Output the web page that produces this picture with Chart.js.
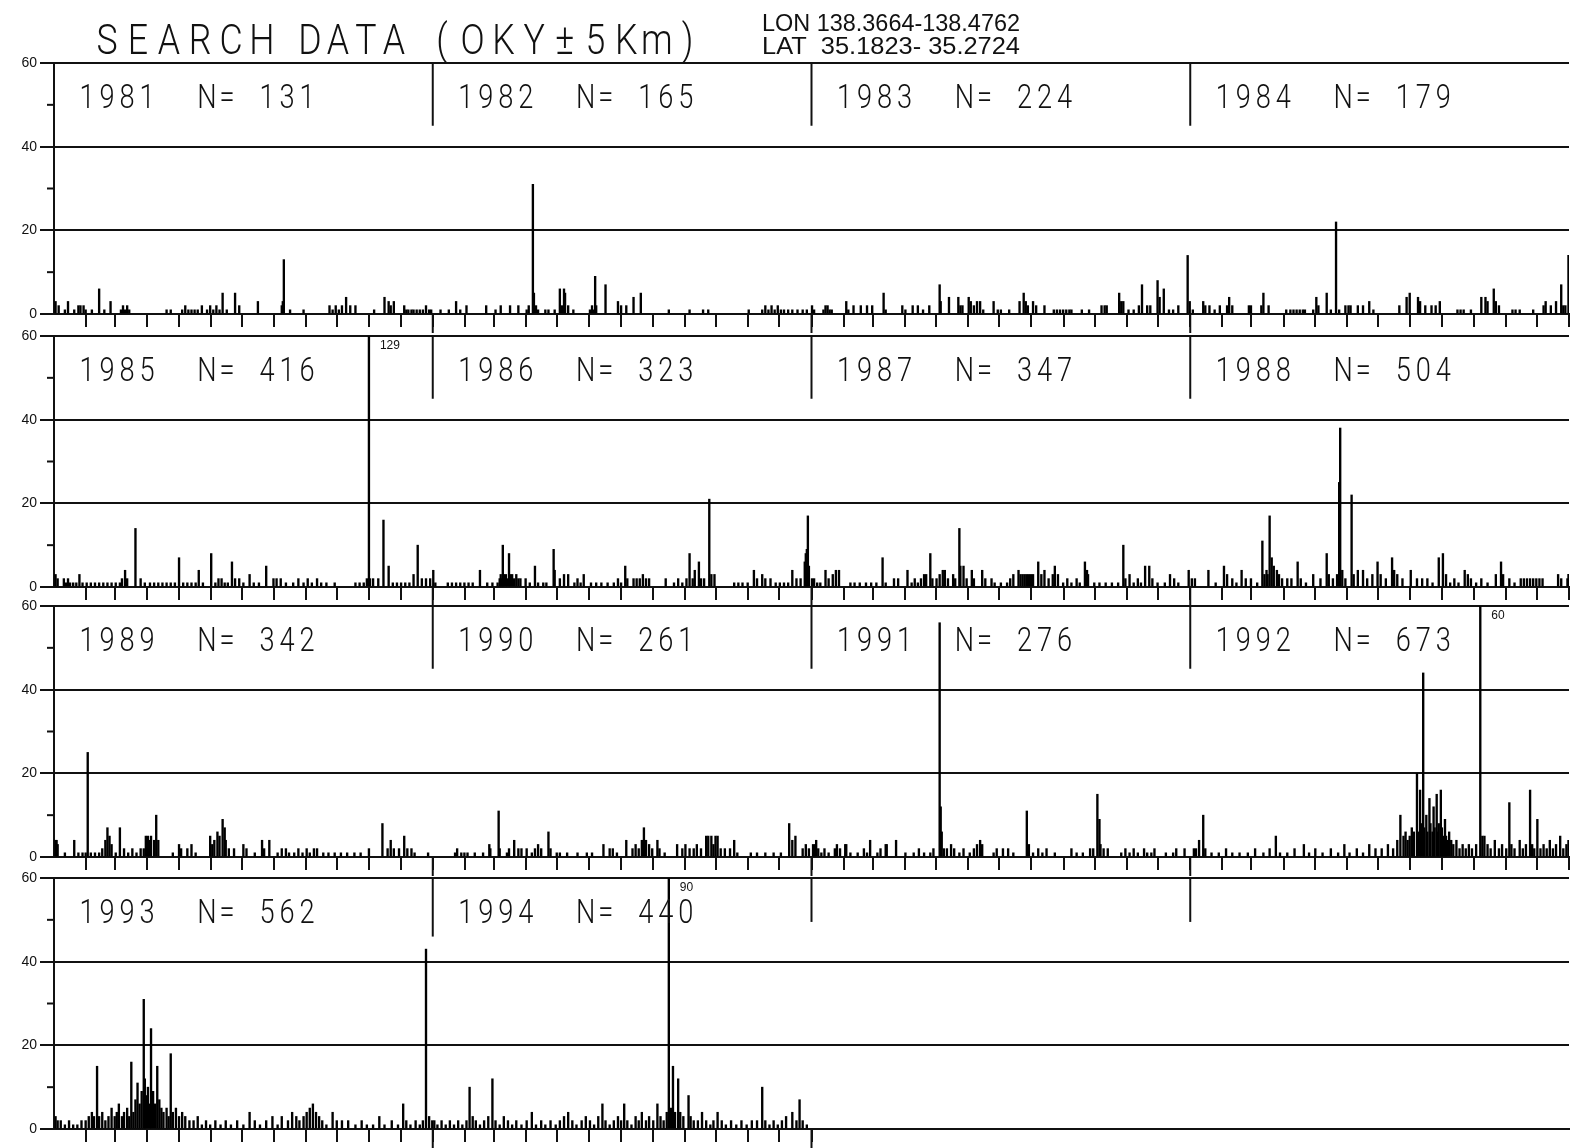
<!DOCTYPE html>
<html>
<head>
<meta charset="utf-8">
<script src="https://cdn.jsdelivr.net/npm/chart.js@4.4.0/dist/chart.umd.min.js"></script>
<style>
  body { margin: 0; background: #fff; width: 1572px; height: 1148px; overflow: hidden; position: relative; }
  canvas { position: absolute; left: 0; }
</style>
</head>
<body>
<canvas id="row0"></canvas>
<canvas id="row1"></canvas>
<canvas id="row2"></canvas>
<canvas id="row3"></canvas>
<script>
// Years and yearly totals (N=)
var years  = [1981, 1982, 1983, 1984, 1985, 1986, 1987, 1988, 1989, 1990, 1991, 1992, 1993, 1994];
var totals = [131, 165, 224, 179, 416, 323, 347, 504, 342, 261, 276, 673, 562, 440];

// Daily event counts, [day of year, count]; days not listed are 0
var q1981 = [[1,3],[4,2],[10,1],[13,3],[19,1],[23,2],[25,2],[28,2],[30,1],[36,1],[43,6],[48,1],[54,3],[64,1],[66,2],[68,1],[70,2],[72,1],[108,1],[112,1],[123,1],[126,2],[129,1],[132,1],[135,1],[138,1],[142,2],[147,1],[150,2],[153,1],[156,2],[159,1],[162,5],[166,1],[174,5],[178,2],[196,3],[219,2],[220,3],[221,13],[227,1],[240,1],[265,2],[268,1],[271,2],[274,1],[277,2],[281,4],[285,2],[290,2],[308,1],[318,4],[322,3],[324,2],[327,3],[337,2],[339,1],[341,1],[344,1],[346,1],[349,1],[352,1],[355,1],[358,2],[361,1],[363,1]];
var q1982 = [[7,1],[15,1],[22,3],[26,1],[32,2],[51,2],[60,1],[65,2],[74,2],[82,2],[90,1],[92,2],[96,31],[97,5],[99,2],[101,1],[108,1],[111,1],[117,1],[122,6],[124,2],[126,6],[127,5],[130,2],[135,1],[151,1],[153,2],[155,1],[156,9],[157,2],[166,7],[178,3],[181,2],[186,2],[193,4],[200,5],[227,1],[247,1],[260,1],[265,1],[304,1],[317,1],[320,2],[323,1],[326,2],[329,1],[332,2],[335,1],[338,1],[342,1],[346,1],[351,1],[356,1],[360,1]];
var q1983 = [[0,2],[2,1],[11,1],[13,2],[15,2],[17,1],[19,1],[33,3],[35,1],[40,2],[47,2],[53,2],[58,2],[69,5],[71,1],[87,2],[90,1],[97,2],[102,2],[107,1],[113,2],[123,7],[124,3],[132,4],[141,4],[143,2],[145,2],[151,4],[153,3],[156,2],[159,3],[162,3],[165,1],[175,3],[179,1],[182,1],[190,1],[200,3],[204,5],[206,3],[208,2],[213,3],[216,2],[224,2],[233,1],[236,1],[239,1],[242,1],[245,1],[248,1],[250,1],[260,1],[267,1],[279,2],[282,2],[284,2],[296,5],[298,3],[300,3],[305,1],[310,1],[315,2],[318,7],[323,2],[326,2],[333,8],[335,4],[339,6],[344,1],[348,1],[353,2],[362,14],[364,3]];
var q1984 = [[2,1],[12,3],[14,2],[18,2],[23,1],[28,2],[35,2],[37,4],[40,2],[56,2],[58,2],[68,2],[70,5],[75,2],[92,1],[96,1],[99,1],[102,1],[105,1],[108,1],[110,1],[118,1],[121,4],[123,2],[131,5],[135,1],[140,22],[143,1],[149,2],[152,2],[154,2],[161,2],[166,2],[172,3],[176,1],[201,2],[208,4],[211,5],[219,4],[221,3],[226,2],[232,2],[236,2],[240,3],[257,1],[260,1],[263,1],[270,1],[280,4],[284,4],[286,3],[292,6],[294,3],[297,2],[310,1],[313,1],[317,1],[330,1],[340,2],[342,3],[347,2],[352,3],[357,7],[359,2],[361,2],[364,14]];
var q1985 = [[1,3],[3,2],[9,2],[11,1],[13,2],[15,1],[18,1],[21,1],[24,3],[27,1],[31,1],[35,1],[39,1],[43,1],[47,1],[51,1],[55,1],[59,1],[63,1],[65,2],[68,4],[70,2],[78,14],[83,2],[87,1],[92,1],[96,1],[100,1],[104,1],[108,1],[112,1],[116,1],[120,7],[124,1],[128,1],[132,1],[136,1],[139,4],[143,1],[151,8],[155,1],[158,2],[161,2],[164,1],[167,1],[171,6],[174,2],[178,2],[182,1],[188,3],[192,1],[197,1],[204,5],[211,2],[214,2],[218,2],[223,1],[230,1],[235,2],[240,1],[244,2],[248,1],[253,2],[257,1],[262,1],[270,1],[290,1],[294,1],[298,1],[301,2],[303,129],[304,2],[307,2],[312,2],[317,16],[322,5],[326,1],[330,1],[334,1],[338,1],[342,1],[346,3],[350,10],[354,2],[358,2],[362,2]];
var q1986 = [[0,4],[2,1],[14,1],[18,1],[22,1],[26,1],[30,1],[34,1],[38,1],[45,4],[52,1],[57,1],[62,1],[64,2],[65,3],[66,2],[67,10],[68,3],[70,3],[71,2],[73,8],[74,3],[76,3],[78,2],[80,3],[82,2],[84,2],[89,2],[93,1],[98,5],[101,1],[106,1],[109,1],[116,9],[117,4],[122,2],[126,3],[130,3],[136,1],[139,2],[142,1],[145,3],[152,1],[157,1],[162,1],[168,1],[174,1],[178,2],[181,1],[185,5],[187,2],[193,2],[196,2],[199,2],[202,3],[205,2],[208,2],[224,2],[232,1],[236,2],[240,1],[244,2],[247,8],[250,2],[252,4],[256,6],[258,2],[261,2],[266,21],[268,3],[271,3],[290,1],[294,1],[298,1],[303,1],[309,4],[312,2],[317,3],[320,2],[325,2],[330,1],[334,1],[338,1],[342,1],[346,4],[350,2],[354,2],[358,6],[359,8],[360,9],[361,17],[362,5]];
var q1987 = [[0,2],[2,2],[5,1],[8,1],[13,4],[16,2],[20,3],[23,4],[26,4],[37,1],[41,1],[46,1],[52,1],[57,1],[62,1],[68,7],[71,1],[79,2],[83,2],[92,4],[96,1],[99,2],[102,1],[105,2],[108,3],[110,3],[114,8],[116,2],[120,2],[123,3],[126,4],[128,4],[131,2],[136,3],[138,2],[142,14],[143,5],[146,5],[149,2],[154,4],[156,2],[164,4],[167,2],[173,2],[176,1],[182,1],[188,1],[191,2],[194,3],[199,4],[201,3],[203,3],[205,3],[207,3],[209,3],[211,3],[213,3],[218,6],[221,3],[224,4],[228,2],[232,3],[234,5],[237,3],[242,1],[246,2],[250,1],[255,2],[258,1],[263,6],[265,4],[266,3],[272,1],[277,1],[283,1],[289,1],[295,1],[300,10],[302,2],[306,3],[310,1],[314,2],[317,1],[321,5],[325,5],[328,2],[333,1],[340,1],[345,3],[349,2],[353,1],[363,4]];
var q1988 = [[1,2],[4,2],[17,4],[24,1],[32,5],[35,3],[40,2],[44,1],[49,4],[53,2],[58,2],[64,1],[69,11],[71,3],[73,4],[74,3],[76,17],[78,7],[80,5],[83,4],[85,3],[88,2],[93,2],[97,2],[103,6],[106,2],[111,1],[118,3],[125,2],[131,8],[133,3],[137,2],[141,3],[143,25],[144,38],[146,4],[149,2],[155,22],[157,3],[161,4],[166,4],[170,2],[175,3],[180,6],[183,3],[188,2],[194,7],[196,4],[199,3],[204,2],[212,4],[218,2],[223,2],[228,2],[233,1],[239,7],[243,8],[246,3],[250,1],[254,2],[258,1],[264,4],[267,3],[270,2],[275,1],[280,2],[286,1],[294,3],[299,6],[301,3],[307,2],[312,1],[318,2],[321,2],[324,2],[327,2],[330,2],[333,2],[336,2],[339,2],[354,3],[357,2],[363,2],[364,3]];
var q1989 = [[1,4],[2,4],[3,3],[10,1],[19,4],[23,1],[27,1],[30,1],[32,25],[35,1],[39,1],[43,1],[46,2],[49,4],[51,7],[53,5],[55,3],[59,1],[63,7],[67,2],[71,1],[75,2],[79,1],[83,2],[86,2],[88,5],[90,5],[91,4],[93,5],[96,4],[98,10],[100,4],[114,1],[120,3],[122,2],[128,2],[132,3],[136,1],[150,5],[152,3],[154,4],[157,6],[159,5],[162,9],[164,7],[165,4],[168,2],[173,2],[182,3],[185,2],[193,1],[200,4],[202,2],[207,4],[215,1],[219,2],[223,2],[226,1],[231,1],[235,2],[239,1],[243,2],[246,1],[250,2],[253,2],[259,1],[264,1],[270,1],[276,1],[282,1],[289,1],[295,1],[303,2],[316,8],[321,2],[324,4],[327,2],[332,2],[337,5],[340,2],[344,2],[347,1],[360,1]];
var q1990 = [[21,1],[23,2],[27,1],[30,1],[33,1],[40,1],[48,1],[54,3],[55,2],[63,11],[64,2],[71,1],[73,2],[78,4],[82,2],[85,2],[90,2],[95,1],[98,2],[101,3],[104,2],[111,6],[113,2],[119,1],[122,1],[129,1],[139,1],[148,1],[153,1],[164,3],[170,2],[173,2],[177,1],[186,4],[192,2],[195,3],[198,2],[201,4],[203,7],[205,4],[208,3],[211,2],[216,4],[218,2],[223,1],[235,3],[240,2],[243,3],[247,2],[251,2],[254,3],[258,2],[263,5],[265,5],[268,5],[270,3],[272,5],[274,5],[277,2],[281,2],[286,2],[290,4],[293,1],[306,1],[312,1],[320,1],[328,1],[335,1],[343,8],[346,4],[349,5],[356,2],[359,3],[362,2]];
var q1991 = [[1,3],[2,2],[3,3],[4,4],[6,2],[9,1],[12,2],[16,1],[22,2],[24,3],[27,2],[32,3],[33,3],[37,1],[44,1],[50,2],[53,1],[56,4],[63,1],[66,2],[71,3],[72,3],[81,4],[90,1],[98,1],[103,2],[108,1],[114,1],[117,2],[123,56],[124,12],[125,6],[127,2],[130,2],[134,3],[137,2],[142,1],[146,2],[152,1],[156,2],[159,3],[162,4],[164,3],[175,1],[178,2],[184,2],[189,2],[194,1],[207,11],[209,3],[213,1],[218,2],[222,1],[226,2],[234,1],[250,2],[255,1],[261,1],[268,2],[271,2],[275,15],[277,9],[278,3],[281,2],[285,2],[298,1],[302,2],[306,1],[310,2],[314,1],[320,2],[323,1],[327,1],[330,2],[341,1],[348,1],[351,2],[359,2]];
var q1992 = [[3,2],[5,2],[8,4],[12,10],[14,2],[20,1],[27,1],[34,2],[40,1],[47,1],[55,1],[62,2],[70,1],[76,2],[82,5],[86,1],[93,1],[100,2],[109,3],[114,1],[120,2],[127,1],[135,2],[142,1],[148,3],[153,1],[160,2],[166,1],[172,3],[178,2],[184,2],[190,3],[195,2],[199,4],[202,10],[205,5],[207,6],[209,4],[211,5],[213,7],[215,6],[218,20],[219,6],[221,16],[222,8],[224,44],[225,7],[227,10],[228,6],[230,14],[231,8],[233,6],[234,12],[235,7],[237,15],[238,6],[239,8],[241,16],[242,7],[243,5],[245,9],[246,5],[247,4],[249,6],[251,4],[253,3],[256,4],[259,2],[262,3],[265,2],[268,3],[271,2],[275,3],[279,60],[281,5],[283,5],[286,3],[289,2],[293,4],[297,2],[300,3],[304,2],[307,13],[309,3],[312,2],[317,4],[320,2],[323,3],[327,16],[329,3],[331,2],[334,9],[337,2],[340,3],[343,2],[346,4],[349,2],[352,3],[356,5],[359,2],[362,3],[364,4]];
var q1993 = [[1,3],[3,2],[6,2],[10,1],[14,2],[18,1],[22,1],[26,2],[30,2],[33,3],[36,4],[38,3],[41,15],[43,3],[46,4],[49,2],[52,3],[55,5],[58,3],[60,4],[62,6],[65,3],[67,4],[70,5],[72,3],[74,16],[76,4],[78,7],[80,11],[82,6],[84,9],[86,31],[87,12],[88,8],[90,10],[92,6],[93,24],[95,9],[97,6],[99,15],[101,7],[103,5],[105,4],[108,5],[110,3],[112,18],[114,4],[117,5],[120,3],[123,4],[126,3],[130,2],[134,2],[138,3],[142,1],[146,2],[150,1],[155,2],[160,1],[165,2],[170,1],[176,2],[182,1],[188,4],[193,2],[198,1],[204,2],[210,3],[215,1],[219,3],[225,2],[229,4],[233,3],[236,2],[240,3],[243,4],[246,5],[249,6],[252,4],[255,3],[258,2],[262,1],[268,4],[272,2],[277,2],[283,2],[290,1],[296,2],[301,1],[307,1],[313,3],[318,1],[325,2],[331,1],[336,6],[339,2],[343,1],[348,2],[352,1],[355,2],[358,43],[361,3],[364,2]];
var q1994 = [[1,2],[4,1],[8,2],[12,1],[16,2],[20,1],[24,2],[28,1],[32,2],[35,10],[38,3],[41,2],[45,1],[49,2],[53,3],[57,12],[60,2],[64,1],[68,3],[72,2],[76,1],[80,2],[85,1],[90,2],[95,4],[99,1],[104,2],[108,1],[113,2],[118,1],[122,2],[126,3],[130,4],[134,2],[138,1],[143,2],[147,3],[151,2],[155,1],[159,3],[163,6],[166,2],[170,1],[174,2],[178,3],[181,2],[184,6],[187,2],[191,1],[195,3],[198,2],[201,4],[205,2],[208,3],[212,2],[216,6],[219,3],[222,2],[225,4],[227,90],[229,5],[231,15],[233,4],[236,12],[238,4],[241,3],[246,8],[248,3],[251,2],[255,2],[259,4],[263,2],[267,1],[270,2],[274,4],[278,2],[282,1],[287,2],[292,1],[297,2],[302,1],[307,2],[312,2],[317,10],[320,2],[324,1],[328,2],[332,1],[336,2],[340,3],[346,4],[350,2],[353,7],[356,2],[360,1]];

var counts = [q1981, q1982, q1983, q1984, q1985, q1986, q1987, q1988, q1989, q1990, q1991, q1992, q1993, q1994];
var monthEnds = [31, 59, 90, 120, 151, 181, 212, 243, 273, 304, 334, 365];
var yTicks = [0, 10, 20, 30, 40, 50, 60];

var DAYS = 365;
var INK = '#111';
var ROW_TOP = [63, 336, 606, 878];   // pixel of the 60 line in each row
var PAD_TOP = [63, 12, 12, 12];
var PLOT_H = 251;
// where the year separator lines stop (value on y axis), per row
var SEP_END = [[45, 45, 45], [45, 45, 45], [45, 45, 45], [46, 49.5, 49.5]];

function drawSpaced(ctx, text, cx, base, pitch, font, sx) {
  ctx.font = font;
  ctx.textAlign = 'center';
  ctx.textBaseline = 'alphabetic';
  for (var i = 0; i < text.length; i++) {
    var ch = text[i];
    if (ch === ' ') continue;
    ctx.save();
    ctx.translate(cx + i * pitch, base);
    ctx.scale(sx, 1);
    ctx.fillText(ch, 0, 0);
    ctx.restore();
  }
}

function fitText(ctx, text, left, base, width, font) {
  ctx.font = font;
  ctx.textAlign = 'left';
  ctx.textBaseline = 'alphabetic';
  var w = ctx.measureText(text).width;
  ctx.save();
  ctx.translate(left, base);
  ctx.scale(width / w, 1);
  ctx.fillText(text, 0, 0);
  ctx.restore();
}

function line(ctx, x1, y1, x2, y2) {
  ctx.beginPath();
  ctx.moveTo(x1, y1);
  ctx.lineTo(x2, y2);
  ctx.stroke();
}

var rowMarks = {
  id: 'rowMarks',
  afterDraw: function (chart, args, opts) {
    var ctx = chart.ctx, a = chart.chartArea;
    var x = chart.scales.x, y = chart.scales.y;
    var r = opts.row, idx = opts.yearIdx;
    ctx.save();
    ctx.strokeStyle = INK;
    ctx.fillStyle = INK;
    ctx.lineWidth = 2;

    // short ticks at 10, 30, 50
    [10, 30, 50].forEach(function (v) {
      var py = y.getPixelForValue(v);
      line(ctx, a.left - 7, py, a.left, py);
    });

    // year separators
    for (var k = 1; k < 4; k++) {
      var px = x.getPixelForValue(k * DAYS);
      line(ctx, px, a.top, px, y.getPixelForValue(SEP_END[r][k - 1]));
      if (k <= idx.length) line(ctx, px, a.bottom, px, a.bottom + 19);
    }

    // year / N labels
    idx.forEach(function (yi, k) {
      var cx = x.getPixelForValue(k * DAYS) + 33;
      drawSpaced(ctx, years[yi] + '  N= ' + totals[yi], cx, a.top + 45, 20,
        '300 34px Roboto, "Liberation Sans", sans-serif', 0.8);
    });

    // value labels for bars cut off at the top
    ctx.font = '12px "Liberation Sans Narrow", "Liberation Sans", sans-serif';
    ctx.textAlign = 'left';
    ctx.textBaseline = 'alphabetic';
    chart.data.datasets[0].data.forEach(function (p) {
      if (p.y >= 60) ctx.fillText(String(p.y), x.getPixelForValue(p.x) + 11, a.top + 13);
    });

    if (r === 0) {
      var tf = '300 42px Roboto, "Liberation Sans", sans-serif';
      drawSpaced(ctx, 'SEARCH', 107, 54, 31, tf, 0.85);
      drawSpaced(ctx, 'DATA', 310, 54, 28, tf, 0.85);
      drawSpaced(ctx, '(OKY±5Km)', 442, 54, 30.7, tf, 0.85);
      var sf = '24px "Liberation Sans", sans-serif';
      fitText(ctx, 'LON 138.3664-138.4762', 762, 31, 258, sf);
      fitText(ctx, 'LAT  35.1823- 35.2724', 762, 54, 258, sf);
    }
    ctx.restore();
  }
};

for (var r = 0; r < 4; r++) {
  var idx = [];
  for (var k = 0; k < 4; k++) if (r * 4 + k < years.length) idx.push(r * 4 + k);

  var points = [];
  idx.forEach(function (yi, k) {
    counts[yi].forEach(function (d) {
      points.push({ x: k * DAYS + d[0] + 0.5, y: d[1] });
    });
  });

  var ticks = [];
  idx.forEach(function (yi, k) {
    monthEnds.forEach(function (m) { ticks.push(k * DAYS + m); });
  });

  var canvas = document.getElementById('row' + r);
  var h = PAD_TOP[r] + PLOT_H + 22;
  canvas.width = 1572;
  canvas.height = h;
  canvas.style.top = (ROW_TOP[r] - PAD_TOP[r]) + 'px';

  new Chart(canvas, {
    type: 'bar',
    data: {
      datasets: [{
        data: points,
        backgroundColor: '#000',
        borderWidth: 0,
        barThickness: 1.7
      }]
    },
    options: {
      responsive: false,
      animation: false,
      layout: { padding: { top: PAD_TOP[r], right: 3, left: 0, bottom: 0 } },
      plugins: {
        legend: { display: false },
        tooltip: { enabled: false },
        rowMarks: { row: r, yearIdx: idx }
      },
      scales: {
        x: {
          type: 'linear',
          min: 0,
          max: 4 * DAYS,
          offset: false,
          afterBuildTicks: (function (t) {
            return function (s) { s.ticks = t.map(function (v) { return { value: v }; }); };
          })(ticks),
          afterFit: function (s) { s.height = 22; },
          ticks: { display: false },
          grid: { offset: false, drawOnChartArea: false, drawTicks: true, tickLength: 13, color: INK, lineWidth: 2 },
          border: { display: true, color: INK, width: 2 }
        },
        y: {
          min: 0,
          max: 60,
          afterBuildTicks: function (s) { s.ticks = yTicks.map(function (v) { return { value: v }; }); },
          afterFit: function (s) { s.width = 54; },
          ticks: {
            color: INK,
            padding: 3,
            font: { family: '"Liberation Sans Narrow", "Liberation Sans", sans-serif', size: 14 },
            callback: function (v) { return v % 20 === 0 ? v : ''; }
          },
          grid: {
            color: function (c) { return c.tick && c.tick.value % 20 === 0 ? INK : 'rgba(0,0,0,0)'; },
            tickColor: function (c) { return c.tick && c.tick.value % 20 === 0 ? INK : 'rgba(0,0,0,0)'; },
            tickLength: 14,
            lineWidth: 2
          },
          border: { display: true, color: INK, width: 2 }
        }
      }
    },
    plugins: [rowMarks]
  });
}
</script>
</body>
</html>
